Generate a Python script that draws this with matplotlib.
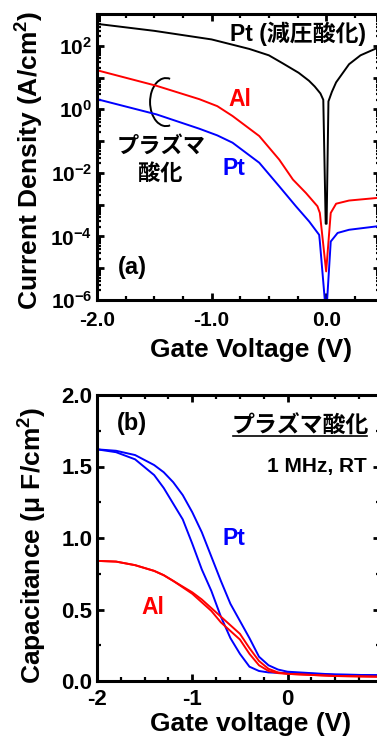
import numpy as np
import matplotlib
matplotlib.use("Agg")
import matplotlib.pyplot as plt
from matplotlib.ticker import MultipleLocator, LogLocator, NullFormatter, FuncFormatter
from matplotlib.patches import Arc

plt.rcParams['font.family'] = ['Liberation Sans', 'Noto Sans CJK JP']
plt.rcParams['font.weight'] = 'bold'
plt.rcParams['mathtext.fontset'] = 'custom'
plt.rcParams['mathtext.rm'] = 'Liberation Sans:bold'
plt.rcParams['mathtext.it'] = 'Liberation Sans:bold'
plt.rcParams['mathtext.bf'] = 'Liberation Sans:bold'

# (a) J-V, log10 of current density
v_pt_ref = [-2.0, -1.5, -1.0, -0.67, -0.5, -0.38, -0.24, -0.15, -0.1, -0.05, -0.025, -0.004,
            0.004, 0.02, 0.05, 0.087, 0.2, 0.3, 0.47]
logj_pt_ref = [2.69, 2.47, 2.2, 1.9, 1.7, 1.45, 1.15, 0.9, 0.72, 0.5, 0.3, -3.6,
               -3.6, 0.25, 0.55, 0.85, 1.42, 1.7, 1.97]

v_al = [-2.0, -1.48, -1.107, -0.95, -0.817, -0.584, -0.41, -0.29, -0.177, -0.076, -0.055, 0.0,
        0.04, 0.087, 0.2, 0.47]
logj_al = [1.23, 0.74, 0.32, 0.1, -0.21, -0.84, -1.58, -2.21, -2.63, -3.05, -3.26, -5.1,
           -3.26, -2.97, -2.87, -2.78]

v_pt = [-2.0, -1.48, -1.107, -0.95, -0.817, -0.584, -0.41, -0.264, -0.148, -0.061, -0.055, 0.0,
        0.04, 0.1, 0.2, 0.47]
logj_pt = [0.32, -0.16, -0.61, -0.82, -1.05, -1.68, -2.42, -3.05, -3.53, -3.95, -4.16, -6.5,
           -4.16, -3.89, -3.79, -3.67]

# (b) C-V, uF/cm2
v_cv = [-2.0, -1.8, -1.6, -1.4, -1.3, -1.2, -1.1, -1.0, -0.9, -0.8, -0.7, -0.6, -0.5,
        -0.4, -0.3, -0.2, -0.1, 0.0, 0.5, 0.97]
c_pt_up = [1.62, 1.61, 1.58, 1.51, 1.46, 1.39, 1.30, 1.18, 1.04, 0.87, 0.70, 0.54, 0.42,
           0.30, 0.17, 0.11, 0.08, 0.065, 0.045, 0.04]
c_pt_dn = [1.62, 1.60, 1.55, 1.44, 1.35, 1.24, 1.13, 0.96, 0.78, 0.63, 0.45, 0.30, 0.19,
           0.10, 0.07, 0.06, 0.057, 0.055, 0.045, 0.04]
c_al_up = [0.84, 0.835, 0.81, 0.77, 0.74, 0.70, 0.66, 0.62, 0.57, 0.51, 0.45, 0.39, 0.33,
           0.23, 0.14, 0.085, 0.06, 0.05, 0.035, 0.03]
c_al_dn = [0.84, 0.835, 0.81, 0.77, 0.74, 0.70, 0.655, 0.61, 0.55, 0.49, 0.41, 0.35, 0.29,
           0.19, 0.11, 0.07, 0.055, 0.05, 0.035, 0.03]

fig = plt.figure(figsize=(3.77, 7.38), dpi=100)
ax1 = fig.add_axes([97/377, 1-300/738, 283/377, 286/738])
ax2 = fig.add_axes([97/377, 1-681/738, 283/377, 286/738])

lw = 1.4
ax1.plot(v_pt_ref, 10**np.array(logj_pt_ref), color='black', lw=lw)
ax1.plot(v_al, 10**np.array(logj_al), color='red', lw=lw)
ax1.plot(v_pt, 10**np.array(logj_pt), color='blue', lw=lw)
ax1.set_yscale('log')
ax1.set_ylim(1e-6, 1e3)
ax1.set_xlim(-2.0, 0.47)
ax1.xaxis.set_major_locator(MultipleLocator(1.0))
ax1.xaxis.set_minor_locator(MultipleLocator(0.25))
ax1.xaxis.set_major_formatter(FuncFormatter(lambda x, p: f"{x:.1f}".replace("-0.0", "0.0")))
ax1.yaxis.set_major_locator(LogLocator(base=10, numticks=20))
ax1.yaxis.set_minor_locator(LogLocator(base=10, subs=np.arange(2, 10), numticks=20))
ax1.yaxis.set_minor_formatter(NullFormatter())

def log_label(y, pos):
    e = int(round(np.log10(y)))
    if e % 2 != 0 or e > 2:
        return ""
    return r"$10^{%d}$" % e
ax1.yaxis.set_major_formatter(FuncFormatter(log_label))

ax2.plot(v_cv, c_pt_up, color='blue', lw=lw)
ax2.plot(v_cv, c_pt_dn, color='blue', lw=lw)
ax2.plot(v_cv, c_al_up, color='red', lw=lw)
ax2.plot(v_cv, c_al_dn, color='red', lw=lw)
ax2.set_xlim(-2.0, 0.97)
ax2.set_ylim(0, 2.0)
ax2.xaxis.set_major_locator(MultipleLocator(1.0))
ax2.xaxis.set_minor_locator(MultipleLocator(0.25))
ax2.xaxis.set_major_formatter(FuncFormatter(lambda x, p: f"{x:.0f}".replace("-0", "0")))
ax2.yaxis.set_major_locator(MultipleLocator(0.5))
ax2.yaxis.set_minor_locator(MultipleLocator(0.25))
ax2.yaxis.set_major_formatter(FuncFormatter(lambda y, p: f"{y:.1f}"))

for ax, fs, xpad in ((ax1, 15, 8), (ax2, 16, 6)):
    for s in ax.spines.values():
        s.set_linewidth(2.2)
    ax.tick_params(which='both', direction='in', top=True, right=True, labelsize=fs)
    ax.tick_params(which='major', length=5, width=2)
    ax.tick_params(which='minor', length=3, width=1.6)
    ax.tick_params(axis='x', which='major', pad=xpad)
    for lab in ax.get_xticklabels() + ax.get_yticklabels():
        lab.set_fontweight('bold')

# labels
fig.text(30/377, 1-160/738, r"Current Density (A/cm$^2$)", rotation=90, ha='center', va='center', fontsize=19)
fig.text(251/377, 1-350/738, "Gate Voltage (V)", ha='center', va='center', fontsize=19)
fig.text(33/377, 1-545/738, r"Capacitance ($\mu$ F/cm$^2$)", rotation=90, ha='center', va='center', fontsize=19)
fig.text(251/377, 2/738, "Gate voltage (V)", ha='center', va='bottom', fontsize=19)

# annotations (a)
ax1.text(0.712, 0.93, "Pt (減圧酸化)", transform=ax1.transAxes, ha='center', va='center', fontsize=16.5)
ax1.text(0.505, 0.701, "Al", color='red', transform=ax1.transAxes, ha='center', va='center', fontsize=16.5)
ax1.text(0.484, 0.461, "Pt", color='blue', transform=ax1.transAxes, ha='center', va='center', fontsize=16.5)
ax1.text(0.225, 0.533, "プラズマ", transform=ax1.transAxes, ha='center', va='center', fontsize=16)
ax1.text(0.225, 0.44, "酸化", transform=ax1.transAxes, ha='center', va='center', fontsize=16)
ax1.text(0.125, 0.114, "(a)", transform=ax1.transAxes, ha='center', va='center', fontsize=17)
ax1.add_patch(Arc((0.244, 0.692), 0.113, 0.168, theta1=80, theta2=280,
                  transform=ax1.transAxes, color='black', lw=1.4))

# annotations (b)
ax2.text(0.125, 0.902, "(b)", transform=ax2.transAxes, ha='center', va='center', fontsize=17)
ax2.text(0.717, 0.892, "プラズマ酸化", transform=ax2.transAxes, ha='center', va='center', fontsize=16.5)
ax2.plot([0.48, 0.954], [0.857, 0.857], color='black', lw=1.2, transform=ax2.transAxes, clip_on=False)
ax2.text(0.954, 0.75, "1 MHz, RT", transform=ax2.transAxes, ha='right', va='center', fontsize=15)
ax2.text(0.484, 0.498, "Pt", color='blue', transform=ax2.transAxes, ha='center', va='center', fontsize=16.5)
ax2.text(0.196, 0.257, "Al", color='red', transform=ax2.transAxes, ha='center', va='center', fontsize=16.5)

fig.savefig("out.png", dpi=100)
